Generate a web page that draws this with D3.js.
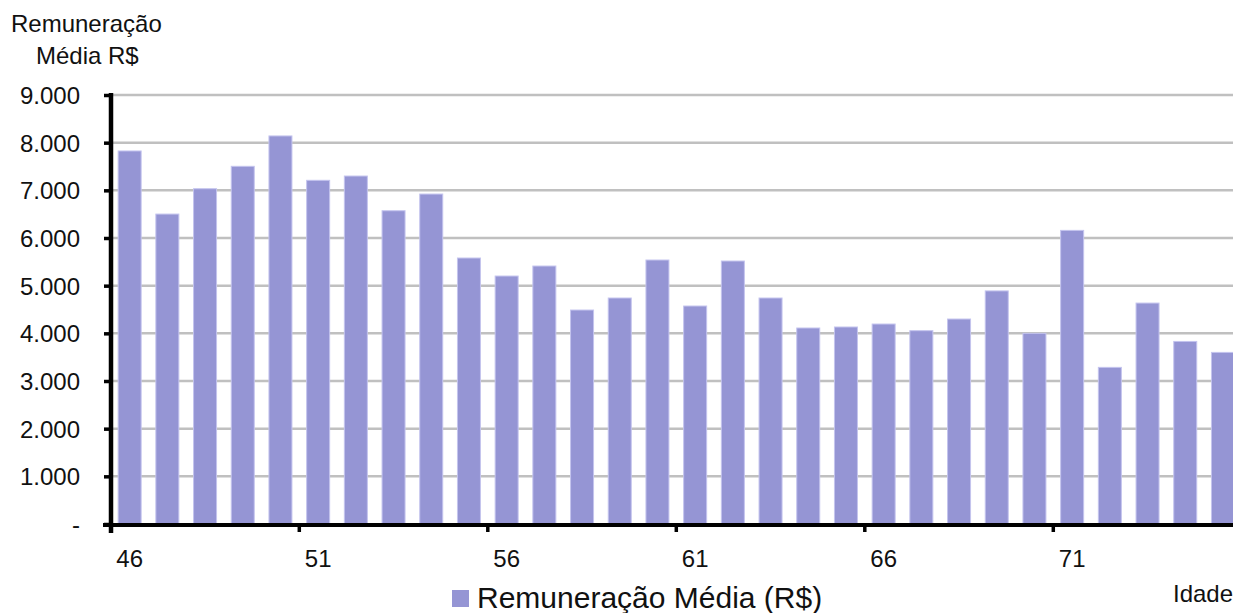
<!DOCTYPE html>
<html>
<head>
<meta charset="utf-8">
<script src="https://cdnjs.cloudflare.com/ajax/libs/d3/7.8.5/d3.min.js"></script>
<style>
  html, body { margin: 0; padding: 0; background: #fff; }
  svg { display: block; font-family: "Liberation Sans", Arial, sans-serif; }
</style>
</head>
<body>
<svg id="chart" width="1233" height="613"></svg>
<script>
const ages = [46,47,48,49,50,51,52,53,54,55,56,57,58,59,60,61,62,63,64,65,66,67,68,69,70,71,72,73,74,75];
const values = [7826,6502,7034,7504,8141,7210,7300,6572,6922,5580,5202,5412,4489,4741,5538,4573,5517,4741,4112,4133,4195,4056,4300,4890,4000,6160,3286,4635,3830,3600];
const yTicks = [0,1000,2000,3000,4000,5000,6000,7000,8000,9000];
const xTickAges = [46,51,56,61,66,71];
const seriesName = "Remuneração Média (R$)";

const svg = d3.select("#chart");
const x0 = 110.8, bandW = 37.7;
const x = d3.scaleBand().domain(ages).range([x0, x0 + bandW * ages.length]).paddingInner(0.39).paddingOuter(0.195);
const y = d3.scaleLinear().domain([0, 9000]).range([524, 95]);

// gridlines
svg.append("g").selectAll("line").data(yTicks.filter(d => d > 0)).join("line")
  .attr("x1", 112).attr("x2", 1233)
  .attr("y1", d => y(d)).attr("y2", d => y(d))
  .attr("stroke", "#c0c0c0").attr("stroke-width", 2.5);

// bars
svg.append("g").selectAll("rect").data(ages).join("rect")
  .attr("x", (d) => x(d))
  .attr("width", x.bandwidth())
  .attr("y", (d, i) => y(values[i]))
  .attr("height", (d, i) => y(0) - y(values[i]))
  .attr("fill", "#9595d4")
  .attr("stroke", "#c4c4ee").attr("stroke-width", 1);

// y axis
const yAxis = d3.axisLeft(y).tickValues(yTicks).tickSize(7)
  .tickFormat(d => d === 0 ? "-" : d3.format(",")(d).replace(/,/g, "."));
const gy = svg.append("g").attr("transform", "translate(111,0)").call(yAxis);
gy.select(".domain").attr("stroke", "#000").attr("stroke-width", 4.5).attr("d", "M0,93V533");
gy.selectAll(".tick line").attr("stroke", "#000").attr("stroke-width", 3.5);
gy.selectAll(".tick text").attr("x", -31).attr("font-size", 24).attr("fill", "#111")
  .attr("dy", "0.36em");

// x axis
const gx = svg.append("g").attr("transform", "translate(0,525)");
gx.append("line").attr("x1", 103).attr("x2", 1233).attr("y1", 0).attr("y2", 0)
  .attr("stroke", "#000").attr("stroke-width", 4);
const step = x.step();
gx.selectAll("line.tk").data(xTickAges).join("line").attr("class", "tk")
  .attr("x1", d => x(d) - x.paddingOuter() * step).attr("x2", d => x(d) - x.paddingOuter() * step)
  .attr("y1", 0).attr("y2", 7)
  .attr("stroke", "#000").attr("stroke-width", 3.5);
gx.selectAll("text").data(xTickAges).join("text")
  .attr("x", d => x(d) + x.bandwidth() / 2)
  .attr("y", 42)
  .attr("text-anchor", "middle").attr("font-size", 24).attr("fill", "#111")
  .text(d => d);

// y title
svg.append("text").attr("x", 11).attr("y", 32).attr("font-size", 24).attr("fill", "#111").text("Remuneração");
svg.append("text").attr("x", 36).attr("y", 64).attr("font-size", 24).attr("fill", "#111").text("Média R$");

// x title
svg.append("text").attr("x", 1173).attr("y", 602).attr("font-size", 24).attr("fill", "#111").text("Idade");

// legend
svg.append("rect").attr("x", 452).attr("y", 590).attr("width", 17).attr("height", 17).attr("fill", "#9595d4");
svg.append("text").attr("x", 477).attr("y", 608).attr("font-size", 30).attr("fill", "#111").text(seriesName);
</script>
</body>
</html>
